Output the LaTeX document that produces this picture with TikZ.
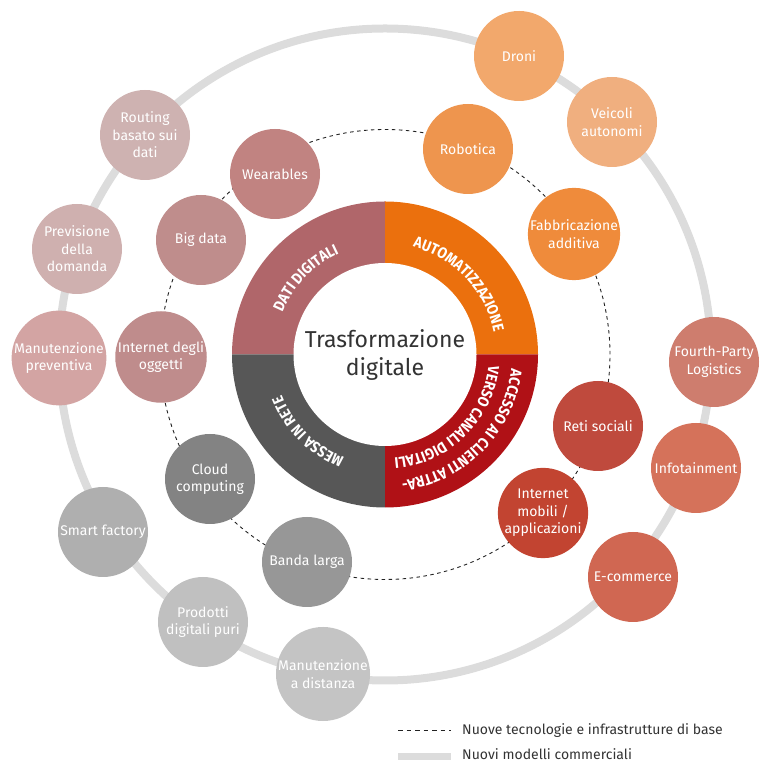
\documentclass[tikz,border=0pt]{standalone}
\usepackage{fontspec}
\setmainfont{Fira Sans}
\newfontfamily\ringfont{Fira Sans}[FakeStretch=0.88]
\usetikzlibrary{decorations.text}
\definecolor{ringgray}{HTML}{DCDCDC}
\definecolor{dashc}{HTML}{222222}
\definecolor{textdark}{HTML}{333333}
\definecolor{cdati}{HTML}{B0666A}
\definecolor{cauto}{HTML}{EB700D}
\definecolor{cacc}{HTML}{B01116}
\definecolor{crete}{HTML}{575757}
\definecolor{cwear}{HTML}{C18381}
\definecolor{cbigd}{HTML}{BF8D8C}
\definecolor{ciot}{HTML}{BF8C8C}
\definecolor{crout}{HTML}{CEB2B1}
\definecolor{cprev}{HTML}{CFB0AF}
\definecolor{cmanp}{HTML}{D3A4A3}
\definecolor{crobo}{HTML}{EE954E}
\definecolor{cfabb}{HTML}{EF8B3B}
\definecolor{cdron}{HTML}{F2A86C}
\definecolor{cveic}{HTML}{F0AF7F}
\definecolor{creti}{HTML}{BF4A3D}
\definecolor{cimob}{HTML}{C24431}
\definecolor{cfpl}{HTML}{CE7D6E}
\definecolor{cinfo}{HTML}{D5725A}
\definecolor{cecom}{HTML}{D06752}
\definecolor{cclou}{HTML}{838383}
\definecolor{cband}{HTML}{979797}
\definecolor{csmar}{HTML}{AFAFAF}
\definecolor{cprod}{HTML}{C0C0C0}
\definecolor{cmand}{HTML}{C4C4C4}
\begin{document}
\begin{tikzpicture}[x=1pt,y=1pt,
  bub/.style={circle, minimum size=90pt, inner sep=0pt, text=white, align=center,
    font=\fontsize{14}{17.5}\selectfont},
  ringtext/.style={decorate, decoration={text along path, text align=center, text color=white,
    text={|\ringfont\bfseries\fontsize{15.5}{15.5}\selectfont|#1}}},
  legtext/.style={anchor=base west, text=textdark, font=\fontsize{14}{16}\selectfont, inner sep=0pt}
]
\useasboundingbox (0,0) rectangle (761,762);
\coordinate (C) at (385,407.5);
% outer and dashed circles
\draw[line width=8pt, color=ringgray] (C) circle[radius=326pt];
\draw[dash pattern=on 3.5pt off 3.5pt, line width=0.9pt, color=dashc] (C) circle[radius=225pt];
% ring sectors
\fill[cdati] (C) -- ++(90:153pt) arc[start angle=90, end angle=180, radius=153pt] -- cycle;
\fill[cauto] (C) -- ++(0:153pt) arc[start angle=0, end angle=90, radius=153pt] -- cycle;
\fill[crete] (C) -- ++(180:153pt) arc[start angle=180, end angle=270, radius=153pt] -- cycle;
\fill[cacc] (C) -- ++(270:153pt) arc[start angle=270, end angle=360, radius=153pt] -- cycle;
\fill[white] (C) circle[radius=91.5pt];
\node[font=\fontsize{23}{28}\selectfont, text=textdark, align=center] (title) at (C) {Trasformazione\\digitale};
% ring labels
\path[ringtext={DATI DIGITALI}] (C) ++(176:111pt) arc[start angle=176, end angle=96, radius=111pt];
\path[ringtext={AUTOMATIZZAZIONE}] (C) ++(86:111pt) arc[start angle=86, end angle=1, radius=111pt];
\path[ringtext={MESSA IN RETE}] (C) ++(-95:111pt) arc[start angle=-95, end angle=-175, radius=111pt];
\path[ringtext={ACCESSO AI CLIENTI ATTRA-}] (C) ++(-0.5:127pt) arc[start angle=-0.5, end angle=-88.5, radius=127pt];
\path[ringtext={VERSO CANALI DIGITALI}] (C) ++(-1:104pt) arc[start angle=-1, end angle=-90, radius=104pt];
% bubbles: dati digitali
\node[bub, fill=cwear] (wear) at (275,588) {Wearables};
\node[bub, fill=cbigd] (bigd) at (201,522) {Big data};
\node[bub, fill=ciot] (iot) at (161,405) {Internet degli\\oggetti};
\node[bub, fill=crout] (rout) at (145,627) {Routing\\basato sui\\dati};
\node[bub, fill=cprev] (prev) at (77,513) {Previsione\\della\\domanda};
\node[bub, fill=cmanp] (manp) at (59,404) {Manutenzione\\preventiva};
% automatizzazione
\node[bub, fill=crobo] (robo) at (468,613) {Robotica};
\node[bub, fill=cfabb] (fabb) at (574,528) {Fabbricazione\\additiva};
\node[bub, fill=cdron] (dron) at (519,706) {Droni};
\node[bub, fill=cveic] (veic) at (612,640) {Veicoli\\autonomi};
% accesso
\node[bub, fill=creti] (reti) at (598,336) {Reti sociali};
\node[bub, fill=cimob] (imob) at (543,249) {Internet\\mobili /\\applicazioni};
\node[bub, fill=cfpl] (fpl) at (714,400) {Fourth-Party\\Logistics};
\node[bub, fill=cinfo] (info) at (696,294) {Infotainment};
\node[bub, fill=cecom] (ecom) at (633,185) {E-commerce};
% messa in rete
\node[bub, fill=cclou] (clou) at (210,283) {Cloud\\computing};
\node[bub, fill=cband] (band) at (307,200) {Banda larga};
\node[bub, fill=csmar] (smar) at (103,230) {Smart factory};
\node[bub, fill=cprod] (prod) at (203,140) {Prodotti\\digitali puri};
\node[bub, fill=cmand] (mand) at (323,88) {Manutenzione\\a distanza};
% legend
\coordinate (l1a) at (398,32);
\coordinate (l1b) at (451,32);
\coordinate (l2a) at (398,5);
\coordinate (l2b) at (451,5);
\draw[dash pattern=on 4.5pt off 4pt, line width=0.9pt, color=dashc] (l1a) -- (l1b);
\draw[line width=7pt, color=ringgray] (l2a) -- (l2b);
\node[legtext] (leg1) at (462,27.5) {Nuove tecnologie e infrastrutture di base};
\node[legtext] (leg2) at (462,2.5) {Nuovi modelli commerciali};
\end{tikzpicture}
\end{document}
